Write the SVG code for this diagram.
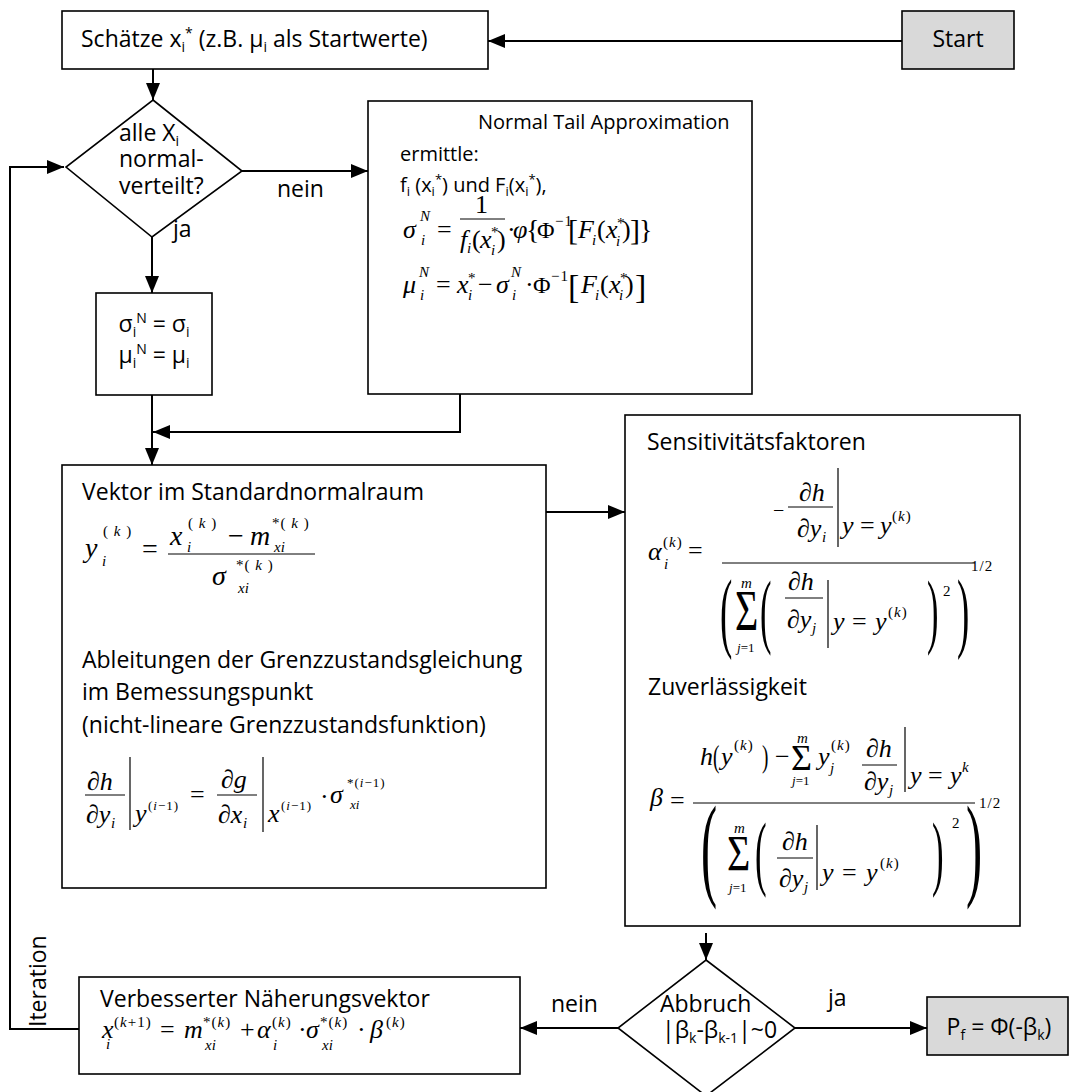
<svg xmlns="http://www.w3.org/2000/svg" width="1071" height="1092" viewBox="0 0 1071 1092">
<style>
.box{fill:#fff;stroke:#000;stroke-width:1.6}
.gray{fill:#d9d9d9}
.c{fill:none;stroke:#000;stroke-width:2}
.t{font-family:"Open Sans","Liberation Sans",sans-serif;font-size:23px;fill:#000}
.t2{font-family:"Open Sans","Liberation Sans",sans-serif;font-size:20px;fill:#000}
.s{font-size:14px}
.s2{font-size:13px}
.mi{font-family:"Liberation Serif",serif;font-style:italic;font-size:26px}
.mr{font-family:"Liberation Serif",serif;font-size:26px}
.si{font-family:"Liberation Serif",serif;font-style:italic;font-size:15px}
.sr{font-family:"Liberation Serif",serif;font-size:15px;letter-spacing:1px}
.it{font-style:italic}
.up{font-style:normal}
.fb{stroke:#000;stroke-width:1}
.vb{stroke:#000;stroke-width:1.2}
</style>
<defs>
<marker id="ah" markerUnits="userSpaceOnUse" markerWidth="17" markerHeight="14" refX="17" refY="7" orient="auto"><path d="M0,0 L17,7 L0,14 z" fill="#000"/></marker>
</defs>

<g id="connectors">
<path class="c" d="M902,41 H488" marker-end="url(#ah)"/>
<path class="c" d="M153,69 V100" marker-end="url(#ah)"/>
<path class="c" d="M242,171 H368" marker-end="url(#ah)"/>
<path class="c" d="M152,237 V293" marker-end="url(#ah)"/>
<path class="c" d="M460,394 V432 H153" marker-end="url(#ah)"/>
<path class="c" d="M152,395 V465" marker-end="url(#ah)"/>
<path class="c" d="M546,512 H625" marker-end="url(#ah)"/>
<path class="c" d="M706,933 V960" marker-end="url(#ah)"/>
<path class="c" d="M795,1028 H927" marker-end="url(#ah)"/>
<path class="c" d="M618,1028 H520" marker-end="url(#ah)"/>
<path class="c" d="M79,1029 H10 V167 H64" marker-end="url(#ah)"/>
<text class="t" x="277" y="197">nein</text>
<text class="t" x="173" y="237">ja</text>
<text class="t" x="828" y="1006">ja</text>
<text class="t" x="551" y="1012">nein</text>
<text class="t" transform="translate(46,1027) rotate(-90)">Iteration</text>
</g>

<g id="n-start">
<rect class="box gray" x="902" y="11" width="112" height="58"/>
<text class="t" x="958" y="47" text-anchor="middle">Start</text>
</g>

<g id="n-schaetze">
<rect class="box" x="62" y="11" width="426" height="58"/>
<text class="t" x="81" y="47">Schätze x<tspan class="s" dy="5">i</tspan><tspan class="s" dy="-14">*</tspan><tspan dy="9"> (z.B. μ</tspan><tspan class="s" dy="5">i</tspan><tspan dy="-5"> als Startwerte)</tspan></text>
</g>

<g id="n-dec1">
<polygon class="box" points="153,100 242,171 152,237 66,167"/>
<text class="t" x="119" y="141">alle X<tspan class="s" dy="5">i</tspan></text>
<text class="t" x="119" y="167">normal-</text>
<text class="t" x="119" y="194">verteilt?</text>
</g>

<g id="n-sigma">
<rect class="box" x="96" y="293" width="116" height="102"/>
<text class="t" x="154" y="332" text-anchor="middle">σ<tspan class="s" dy="5">i</tspan><tspan class="s" dy="-14">N</tspan><tspan dy="9"> = σ</tspan><tspan class="s" dy="5">i</tspan></text>
<text class="t" x="154" y="363" text-anchor="middle">μ<tspan class="s" dy="5">i</tspan><tspan class="s" dy="-14">N</tspan><tspan dy="9"> = μ</tspan><tspan class="s" dy="5">i</tspan></text>
</g>

<g id="n-nta">
<rect class="box" x="368" y="101" width="384" height="293"/>
<text class="t2" x="478" y="129">Normal Tail Approximation</text>
<text class="t2" x="400" y="161">ermittle:</text>
<text class="t2" x="400" y="192">f<tspan class="s2" dy="4">i</tspan><tspan dy="-4"> (x</tspan><tspan class="s2" dy="4">i</tspan><tspan class="s2" dy="-12">*</tspan><tspan dy="8">) und F</tspan><tspan class="s2" dy="4">i</tspan><tspan dy="-4">(x</tspan><tspan class="s2" dy="4">i</tspan><tspan class="s2" dy="-12">*</tspan><tspan dy="8">),</tspan></text>
<!-- sigma line -->
<text class="mi" x="403" y="238">σ</text>
<text class="si" x="420" y="221">N</text>
<text class="si" x="421" y="245">i</text>
<text class="mr" x="437" y="238">=</text>
<text class="mr" x="475" y="213">1</text>
<line class="fb" x1="460" y1="219" x2="505" y2="219"/>
<text class="mi" x="460" y="248">f</text>
<text class="si" x="467" y="253">i</text>
<text class="mr" x="472" y="248">(</text>
<text class="mi" x="480" y="248">x</text>
<text class="sr" x="491" y="237">*</text>
<text class="si" x="491" y="255">i</text>
<text class="mr" x="497" y="248">)</text>
<text class="mr" x="507" y="238">·</text>
<text class="mi" x="513" y="238">φ</text>
<text class="mr" style="font-size:28px" x="526" y="239">{</text>
<text class="mr" style="font-size:24px" x="537" y="238">Φ</text>
<text class="sr" x="555" y="226">−1</text>
<text class="mr" style="font-size:30px" x="568" y="240">[</text>
<text class="mi" x="578" y="238">F</text>
<text class="si" x="592" y="245">i</text>
<text class="mr" x="597" y="238">(</text>
<text class="mi" x="606" y="238">x</text>
<text class="sr" x="617" y="228">*</text>
<text class="si" x="616" y="246">i</text>
<text class="mr" x="622" y="238">)</text>
<text class="mr" style="font-size:30px" x="630" y="240">]</text>
<text class="mr" style="font-size:28px" x="639" y="239">}</text>
<!-- mu line -->
<text class="mi" x="403" y="293">μ</text>
<text class="si" x="419" y="277">N</text>
<text class="si" x="420" y="300">i</text>
<text class="mr" x="436" y="293">=</text>
<text class="mi" x="457" y="293">x</text>
<text class="sr" x="468" y="283">*</text>
<text class="si" x="468" y="300">i</text>
<text class="mr" x="478" y="293">−</text>
<text class="mi" x="496" y="293">σ</text>
<text class="si" x="511" y="277">N</text>
<text class="si" x="512" y="300">i</text>
<text class="mr" x="525" y="293">·</text>
<text class="mr" style="font-size:24px" x="533" y="293">Φ</text>
<text class="sr" x="551" y="281">−1</text>
<text class="mr" style="font-size:34px" x="568" y="298">[</text>
<text class="mi" x="581" y="293">F</text>
<text class="si" x="595" y="300">i</text>
<text class="mr" x="600" y="293">(</text>
<text class="mi" x="609" y="293">x</text>
<text class="sr" x="620" y="283">*</text>
<text class="si" x="619" y="300">i</text>
<text class="mr" x="625" y="293">)</text>
<text class="mr" style="font-size:34px" x="635" y="298">]</text>
</g>

<g id="n-vektor">
<rect class="box" x="62" y="465" width="484" height="423"/>
<text class="t" x="82" y="500">Vektor im Standardnormalraum</text>
<text class="mi" style="font-size:28px" x="85" y="557">y</text>
<text class="sr" x="103" y="536">( <tspan class="it">k</tspan> )</text>
<text class="si" x="102" y="566">i</text>
<text class="mr" style="font-size:28px" x="142" y="558">=</text>
<line class="fb" x1="168" y1="554" x2="315" y2="554"/>
<text class="mi" style="font-size:28px" x="170" y="545">x</text>
<text class="sr" x="188" y="528">( <tspan class="it">k</tspan> )</text>
<text class="si" x="187" y="552">i</text>
<text class="mr" style="font-size:28px" x="228" y="545">−</text>
<text class="mi" style="font-size:28px" x="250" y="545">m</text>
<text class="sr" x="272" y="528">*( <tspan class="it">k</tspan> )</text>
<text class="si" x="274" y="552">xi</text>
<text class="mi" style="font-size:28px" x="212" y="585">σ</text>
<text class="sr" x="236" y="570">*( <tspan class="it">k</tspan> )</text>
<text class="si" x="238" y="593">xi</text>
<text class="t" x="82" y="668">Ableitungen der Grenzzustandsgleichung</text>
<text class="t" x="82" y="700">im Bemessungspunkt</text>
<text class="t" x="82" y="733">(nicht-lineare Grenzzustandsfunktion)</text>
<text class="mi" x="87" y="790">∂h</text>
<line class="fb" x1="85" y1="795" x2="125" y2="795"/>
<text class="mi" x="86" y="823">∂y</text>
<text class="si" x="111" y="828">i</text>
<line class="vb" x1="130" y1="757" x2="130" y2="830"/>
<text class="mi" x="135" y="822">y</text>
<text class="sr" style="font-size:13px" x="148" y="810">(<tspan class="it">i</tspan>−1)</text>
<text class="mr" x="190" y="803">=</text>
<text class="mi" x="221" y="788">∂g</text>
<line class="fb" x1="217" y1="795" x2="257" y2="795"/>
<text class="mi" x="218" y="823">∂x</text>
<text class="si" x="243" y="828">i</text>
<line class="vb" x1="263" y1="757" x2="263" y2="832"/>
<text class="mi" x="268" y="822">x</text>
<text class="sr" style="font-size:13px" x="281" y="810">(<tspan class="it">i</tspan>−1)</text>
<text class="mr" x="320" y="805">·</text>
<text class="mi" x="330" y="803">σ</text>
<text class="sr" style="font-size:13px" x="347" y="787">*(<tspan class="it">i</tspan>−1)</text>
<text class="si" style="font-size:13px" x="350" y="809">xi</text>
</g>

<g id="n-sens">
<rect class="box" x="625" y="415" width="395" height="511"/>
<text class="t" x="647" y="450">Sensitivitätsfaktoren</text>
<!-- alpha -->
<text class="mi" x="648" y="560">α</text>
<text class="sr" x="663" y="547">(<tspan class="it">k</tspan>)</text>
<text class="si" x="664" y="569">i</text>
<text class="mr" x="688" y="559">=</text>
<line class="fb" x1="722" y1="563" x2="975" y2="563"/>
<text class="mr" style="font-size:20px" x="773" y="517">−</text>
<line class="fb" x1="788" y1="507" x2="833" y2="507"/>
<text class="mi" x="799" y="501">∂h</text>
<text class="mi" x="797" y="537">∂y</text>
<text class="si" x="822" y="542">i</text>
<line class="vb" x1="838" y1="468" x2="838" y2="547"/>
<text class="mi" x="842" y="534">y</text>
<text class="mr" x="860" y="534">=</text>
<text class="mi" x="880" y="534">y</text>
<text class="sr" x="892" y="521">(<tspan class="it">k</tspan>)</text>
<text class="mr" style="font-size:88px" transform="translate(720,641) scale(0.42,1)">(</text>
<text class="mr" style="font-size:40px" transform="translate(735,630) scale(1,1.4)">Σ</text>
<text class="si" x="741" y="588">m</text>
<text class="si" style="font-size:13px" x="737" y="652">j<tspan class="up">=1</tspan></text>
<text class="mr" style="font-size:82px" transform="translate(760,638) scale(0.42,1)">(</text>
<text class="mi" x="788" y="590">∂h</text>
<line class="fb" x1="785" y1="598" x2="823" y2="598"/>
<text class="mi" x="787" y="628">∂y</text>
<text class="si" x="812" y="633">j</text>
<line class="vb" x1="828" y1="580" x2="828" y2="648"/>
<text class="mi" x="833" y="630">y</text>
<text class="mr" x="852" y="630">=</text>
<text class="mi" x="875" y="630">y</text>
<text class="sr" x="888" y="617">(<tspan class="it">k</tspan>)</text>
<text class="mr" style="font-size:82px" transform="translate(927,638) scale(0.42,1)">)</text>
<text class="sr" x="943" y="596">2</text>
<text class="mr" style="font-size:88px" transform="translate(957,641) scale(0.42,1)">)</text>
<text class="sr" x="971" y="571">1/2</text>
<text class="t" x="648" y="695">Zuverlässigkeit</text>
<!-- beta -->
<text class="mi" x="650" y="806">β</text>
<text class="mr" x="670" y="809">=</text>
<line class="fb" x1="693" y1="803" x2="975" y2="803"/>
<text class="mi" x="700" y="765">h</text>
<text class="mr" style="font-size:32px" transform="translate(713,767) scale(0.6,1)">(</text>
<text class="mi" x="721" y="765">y</text>
<text class="sr" x="734" y="750">(<tspan class="it">k</tspan>)</text>
<text class="mr" style="font-size:32px" transform="translate(762,767) scale(0.6,1)">)</text>
<text class="mr" x="775" y="765">−</text>
<text class="mr" style="font-size:36px" x="791" y="770">Σ</text>
<text class="si" x="797" y="743">m</text>
<text class="si" style="font-size:13px" x="792" y="785">j<tspan class="up">=1</tspan></text>
<text class="mi" x="818" y="765">y</text>
<text class="sr" x="831" y="750">(<tspan class="it">k</tspan>)</text>
<text class="si" x="830" y="773">j</text>
<text class="mi" x="866" y="757">∂h</text>
<line class="fb" x1="862" y1="765" x2="897" y2="765"/>
<text class="mi" x="864" y="790">∂y</text>
<text class="si" x="889" y="795">j</text>
<line class="vb" x1="905" y1="727" x2="905" y2="792"/>
<text class="mi" x="910" y="784">y</text>
<text class="mr" x="928" y="784">=</text>
<text class="mi" x="950" y="784">y</text>
<text class="si" x="962" y="772">k</text>
<text class="mr" style="font-size:115px" transform="translate(701,885) scale(0.42,1)">(</text>
<text class="mr" style="font-size:40px" transform="translate(727,870) scale(1,1.25)">Σ</text>
<text class="si" x="734" y="833">m</text>
<text class="si" style="font-size:13px" x="729" y="892">j<tspan class="up">=1</tspan></text>
<text class="mr" style="font-size:83px" transform="translate(755,880) scale(0.42,1)">(</text>
<text class="mi" x="782" y="850">∂h</text>
<line class="fb" x1="777" y1="858" x2="813" y2="858"/>
<text class="mi" x="779" y="887">∂y</text>
<text class="si" x="804" y="892">j</text>
<line class="vb" x1="817" y1="825" x2="817" y2="890"/>
<text class="mi" x="822" y="881">y</text>
<text class="mr" x="842" y="881">=</text>
<text class="mi" x="866" y="881">y</text>
<text class="sr" x="880" y="868">(<tspan class="it">k</tspan>)</text>
<text class="mr" style="font-size:83px" transform="translate(932,880) scale(0.42,1)">)</text>
<text class="sr" x="952" y="828">2</text>
<text class="mr" style="font-size:115px" transform="translate(966,885) scale(0.42,1)">)</text>
<text class="sr" x="979" y="808">1/2</text>
</g>

<g id="n-dec2">
<polygon class="box" points="706,960 795,1028 706,1096 618,1028"/>
<text class="t" x="660" y="1012">Abbruch</text>
<text class="t" x="662" y="1038">|β<tspan class="s" dy="5">k</tspan><tspan dy="-5">-β</tspan><tspan class="s" dy="5">k-1</tspan><tspan dy="-5">|~0</tspan></text>
</g>

<g id="n-pf">
<rect class="box gray" x="927" y="997" width="141" height="58"/>
<text class="t" x="999" y="1035" text-anchor="middle">P<tspan class="s" dy="5">f</tspan><tspan dy="-5"> = Φ(-β</tspan><tspan class="s" dy="5">k</tspan><tspan dy="-5">)</tspan></text>
</g>

<g id="n-verb">
<rect class="box" x="79" y="977" width="441" height="97"/>
<text class="t" x="100" y="1007">Verbesserter Näherungsvektor</text>
<text class="mi" x="102" y="1038">x</text>
<text class="sr" x="114" y="1027">(<tspan class="it">k</tspan>+1)</text>
<text class="si" x="106" y="1049">i</text>
<text class="mr" x="160" y="1038">=</text>
<text class="mi" x="184" y="1038">m</text>
<text class="sr" x="203" y="1027">*(<tspan class="it">k</tspan>)</text>
<text class="si" x="205" y="1050">xi</text>
<text class="mr" x="240" y="1038">+</text>
<text class="mi" x="257" y="1038">α</text>
<text class="sr" x="272" y="1027">(<tspan class="it">k</tspan>)</text>
<text class="si" x="273" y="1050">i</text>
<text class="mr" x="298" y="1038">·</text>
<text class="mi" x="306" y="1038">σ</text>
<text class="sr" x="320" y="1027">*(<tspan class="it">k</tspan>)</text>
<text class="si" x="322" y="1050">xi</text>
<text class="mr" x="357" y="1038">·</text>
<text class="mi" x="370" y="1038">β</text>
<text class="sr" x="386" y="1027">(<tspan class="it">k</tspan>)</text>
</g>
</svg>
